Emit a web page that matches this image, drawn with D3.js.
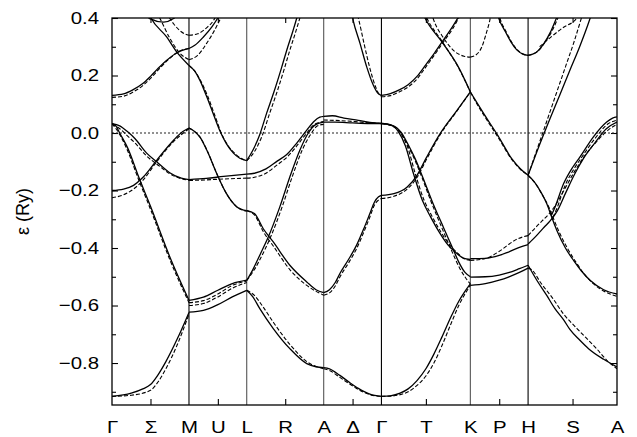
<!DOCTYPE html>
<html>
<head>
<meta charset="utf-8">
<script src="https://cdn.jsdelivr.net/npm/d3@7"></script>
<style>
  body { margin: 0; background: #fff; }
  svg text { font-family: "Liberation Sans", Arial, sans-serif; }
</style>
</head>
<body>
<div id="chart"></div>
<script>
// k-path: high symmetry points and segment lengths (in units of Γ-M)
var pathNames = ["Γ", "M", "L", "A", "Γ", "K", "H", "A"];
var segLengths = [1, 0.75, 1, 0.75, 1.155, 0.75, 1.155];
var midNames = ["Σ", "U", "R", "Δ", "T", "P", "S"];
// colour of the vertical line at each inner symmetry point
var symColors = ["#000", "#555", "#555", "#000", "#555", "#000"];

// energy axis (Ry)
var yDomain = [-0.946, 0.4];
var yMajor = [0.4, 0.2, 0, -0.2, -0.4, -0.6, -0.8];
var yMinor = [0.3, 0.1, -0.1, -0.3, -0.5, -0.7, -0.9];

// bands per segment, points are [fraction along segment, energy]
var gmSolid = [
  [[0,-0.916],[0.25,-0.905],[0.4,-0.89],[0.5,-0.875],[0.6,-0.84],[0.7,-0.795],[0.85,-0.715],[1,-0.624]],
  [[0,0.033],[0.05,0.025],[0.1,0.0],[0.2,-0.05],[0.35,-0.155],[0.5,-0.255],[0.75,-0.43],[1,-0.582]],
  [[0,0.033],[0.1,0.025],[0.2,0.005],[0.3,-0.02],[0.45,-0.07],[0.58,-0.1],[0.75,-0.138],[0.9,-0.157],[1,-0.162]],
  [[0,-0.2],[0.15,-0.195],[0.28,-0.182],[0.4,-0.155],[0.58,-0.095],[0.8,-0.025],[0.92,0.005],[1,0.017]],
  [[0,0.131],[0.15,0.136],[0.27,0.15],[0.4,0.172],[0.5,0.197],[0.6,0.225],[0.72,0.255],[0.85,0.28],[1,0.294]],
  [[0.47,0.42],[0.506,0.4],[0.71,0.334],[0.84,0.282],[1,0.235]],
  [[0.42,0.42],[0.49,0.398],[0.67,0.386],[0.8,0.398],[0.86,0.42]]
];
var gmDashed = [
  [[0,-0.916],[0.25,-0.912],[0.5,-0.895],[0.6,-0.865],[0.7,-0.82],[0.85,-0.735],[1,-0.63]],
  [[0,0.033],[0.1,-0.005],[0.2,-0.06],[0.35,-0.165],[0.5,-0.265],[0.75,-0.44],[1,-0.59]],
  [[0,0.03],[0.1,0.015],[0.2,-0.01],[0.3,-0.035],[0.45,-0.08],[0.6,-0.112],[0.75,-0.142],[1,-0.165]],
  [[0,-0.225],[0.15,-0.215],[0.28,-0.195],[0.4,-0.165],[0.58,-0.1],[0.8,-0.03],[1,0.015]],
  [[0,0.124],[0.15,0.128],[0.27,0.142],[0.4,0.165],[0.5,0.19],[0.62,0.225],[0.75,0.26],[0.88,0.285],[1,0.294]],
  [[0.58,0.42],[0.62,0.4],[0.75,0.33],[0.88,0.278],[1,0.255]],
  [[0.7,0.42],[0.8,0.38],[0.9,0.352],[1,0.34]]
];

var mlSolid = [
  [[0,0.235],[0.1,0.215],[0.19,0.183],[0.31,0.125],[0.42,0.067],[0.54,0.005],[0.65,-0.038],[0.77,-0.07],[0.88,-0.088],[1,-0.096]],
  [[0,0.294],[0.1,0.305],[0.25,0.334],[0.4,0.37],[0.5,0.4],[0.56,0.42]],
  [[0,0.017],[0.08,0.008],[0.19,-0.014],[0.31,-0.06],[0.48,-0.141],[0.65,-0.211],[0.83,-0.257],[1,-0.27]],
  [[0,-0.162],[0.3,-0.158],[0.6,-0.151],[1,-0.143]],
  [[0,-0.582],[0.25,-0.571],[0.5,-0.547],[0.75,-0.524],[1,-0.512]],
  [[0,-0.623],[0.25,-0.617],[0.5,-0.597],[0.75,-0.57],[1,-0.547]]
];
var mlDashed = [
  [[0,0.235],[0.12,0.21],[0.22,0.175],[0.33,0.125],[0.45,0.06],[0.57,-0.005],[0.68,-0.045],[0.8,-0.072],[0.9,-0.088],[1,-0.096]],
  [[0,0.255],[0.15,0.27],[0.3,0.31],[0.45,0.36],[0.55,0.4],[0.6,0.42]],
  [[0,0.34],[0.15,0.345],[0.3,0.365],[0.42,0.39],[0.5,0.42]],
  [[0,0.017],[0.1,0.005],[0.21,-0.02],[0.33,-0.068],[0.5,-0.15],[0.67,-0.218],[0.85,-0.26],[1,-0.272]],
  [[0,-0.165],[0.3,-0.163],[0.6,-0.16],[1,-0.157]],
  [[0,-0.59],[0.25,-0.583],[0.5,-0.56],[0.75,-0.53],[1,-0.515]],
  [[0,-0.6],[0.25,-0.593],[0.5,-0.57],[0.75,-0.54],[1,-0.52]]
];

var laSolid = [
  [[0,-0.096],[0.08,-0.06],[0.17,-0.005],[0.26,0.07],[0.35,0.14],[0.45,0.225],[0.52,0.288],[0.6,0.355],[0.65,0.4],[0.68,0.43]],
  [[0,-0.143],[0.1,-0.14],[0.25,-0.125],[0.4,-0.097],[0.52,-0.075],[0.65,-0.035],[0.78,0.01],[0.88,0.042],[0.95,0.055],[1,0.058]],
  [[0,-0.513],[0.08,-0.475],[0.17,-0.425],[0.28,-0.362],[0.43,-0.257],[0.56,-0.153],[0.69,-0.06],[0.8,0.0],[0.9,0.03],[1,0.038]],
  [[0,-0.27],[0.1,-0.28],[0.215,-0.333],[0.345,-0.379],[0.56,-0.46],[0.78,-0.518],[0.9,-0.545],[1,-0.555]],
  [[0,-0.547],[0.08,-0.57],[0.17,-0.611],[0.345,-0.68],[0.56,-0.75],[0.78,-0.802],[0.9,-0.813],[1,-0.816]]
];
var laDashed = [
  [[0,-0.096],[0.1,-0.065],[0.2,-0.01],[0.3,0.07],[0.39,0.14],[0.49,0.225],[0.56,0.288],[0.64,0.355],[0.69,0.4],[0.72,0.43]],
  [[0,-0.157],[0.1,-0.154],[0.25,-0.14],[0.4,-0.11],[0.52,-0.085],[0.65,-0.045],[0.78,0.0],[0.88,0.03],[1,0.04]],
  [[0,-0.513],[0.1,-0.475],[0.2,-0.425],[0.31,-0.362],[0.46,-0.257],[0.59,-0.153],[0.72,-0.06],[0.83,-0.005],[0.92,0.025],[1,0.03]],
  [[0,-0.27],[0.1,-0.285],[0.22,-0.345],[0.35,-0.395],[0.56,-0.475],[0.78,-0.53],[1,-0.564]],
  [[0,-0.547],[0.1,-0.565],[0.2,-0.6],[0.35,-0.66],[0.56,-0.735],[0.78,-0.795],[1,-0.82]]
];

var agSolid = [
  [[0,0.058],[0.15,0.06],[0.35,0.052],[0.6,0.044],[0.8,0.037],[1,0.033]],
  [[0,0.038],[0.2,0.038],[0.5,0.035],[0.8,0.033],[1,0.033]],
  [[0,-0.555],[0.1,-0.545],[0.2,-0.52],[0.29,-0.485],[0.43,-0.44],[0.57,-0.39],[0.7,-0.33],[0.8,-0.28],[0.88,-0.24],[0.95,-0.222],[1,-0.217]],
  [[0,-0.816],[0.1,-0.82],[0.28,-0.843],[0.45,-0.868],[0.6,-0.888],[0.8,-0.908],[1,-0.916]],
  [[0.47,0.43],[0.51,0.392],[0.63,0.311],[0.745,0.23],[0.86,0.166],[0.94,0.138],[1,0.131]]
];
var agDashed = [
  [[0,0.045],[0.3,0.043],[0.7,0.037],[1,0.033]],
  [[0,-0.564],[0.1,-0.556],[0.2,-0.532],[0.29,-0.497],[0.43,-0.452],[0.57,-0.402],[0.7,-0.342],[0.8,-0.292],[0.88,-0.25],[1,-0.228]],
  [[0,-0.82],[0.1,-0.826],[0.28,-0.85],[0.45,-0.873],[0.6,-0.892],[0.8,-0.91],[1,-0.916]],
  [[0.56,0.43],[0.6,0.4],[0.7,0.31],[0.8,0.225],[0.9,0.16],[0.96,0.135],[1,0.128]]
];

var gkSolid = [
  [[0,0.131],[0.1,0.137],[0.2,0.15],[0.3,0.168],[0.4,0.197],[0.5,0.238],[0.6,0.28],[0.7,0.325],[0.8,0.37],[0.86,0.4],[0.9,0.42]],
  [[0.46,0.42],[0.49,0.4],[0.68,0.317],[0.865,0.23],[1,0.143]],
  [[0,0.033],[0.1,0.028],[0.19,0.005],[0.27,-0.045],[0.36,-0.141],[0.46,-0.234],[0.55,-0.29],[0.65,-0.345],[0.75,-0.39],[0.83,-0.414],[0.92,-0.435],[1,-0.44]],
  [[0,0.033],[0.12,0.027],[0.22,0.003],[0.3,-0.04],[0.38,-0.09],[0.46,-0.15],[0.58,-0.245],[0.7,-0.33],[0.8,-0.4],[0.87,-0.449],[0.94,-0.485],[1,-0.5]],
  [[0,-0.217],[0.14,-0.211],[0.29,-0.188],[0.4,-0.147],[0.51,-0.083],[0.66,-0.002],[0.85,0.079],[1,0.143]],
  [[0,-0.916],[0.1,-0.914],[0.21,-0.905],[0.3,-0.89],[0.4,-0.861],[0.5,-0.82],[0.59,-0.769],[0.68,-0.71],[0.78,-0.641],[0.87,-0.585],[0.93,-0.555],[1,-0.525]]
];
var gkDashed = [
  [[0,0.126],[0.1,0.13],[0.2,0.143],[0.3,0.16],[0.4,0.188],[0.5,0.23],[0.6,0.273],[0.7,0.318],[0.8,0.362],[0.87,0.4],[0.9,0.415]],
  [[0.48,0.42],[0.51,0.4],[0.69,0.315],[0.87,0.225],[1,0.143]],
  [[0.56,0.42],[0.58,0.4],[0.7,0.33],[0.83,0.282],[0.93,0.267],[1,0.264]],
  [[0,0.033],[0.11,0.026],[0.21,0.003],[0.29,-0.045],[0.38,-0.141],[0.48,-0.234],[0.57,-0.29],[0.67,-0.345],[0.77,-0.39],[0.85,-0.416],[0.93,-0.437],[1,-0.443]],
  [[0,0.033],[0.12,0.026],[0.21,0.003],[0.29,-0.04],[0.37,-0.09],[0.45,-0.15],[0.56,-0.24],[0.68,-0.33],[0.79,-0.41],[0.88,-0.47],[0.95,-0.505],[1,-0.525]],
  [[0,-0.228],[0.14,-0.22],[0.29,-0.195],[0.4,-0.155],[0.51,-0.09],[0.66,-0.006],[0.85,0.077],[1,0.143]],
  [[0,-0.916],[0.1,-0.915],[0.21,-0.91],[0.3,-0.9],[0.4,-0.878],[0.5,-0.845],[0.59,-0.8],[0.68,-0.74],[0.78,-0.665],[0.87,-0.6],[0.93,-0.565],[1,-0.53]]
];

var khSolid = [
  [[0,0.143],[0.1,0.11],[0.24,0.065],[0.48,-0.01],[0.72,-0.09],[0.87,-0.125],[1,-0.147]],
  [[0.46,0.42],[0.49,0.4],[0.6,0.355],[0.7,0.318],[0.8,0.29],[0.9,0.275],[1,0.27]],
  [[0,-0.437],[0.26,-0.436],[0.5,-0.426],[0.66,-0.414],[0.85,-0.398],[1,-0.388]],
  [[0,-0.501],[0.26,-0.5],[0.5,-0.494],[0.66,-0.486],[0.85,-0.472],[1,-0.46]],
  [[0,-0.53],[0.26,-0.524],[0.5,-0.512],[0.66,-0.501],[0.85,-0.485],[1,-0.47]]
];
var khDashed = [
  [[0,0.143],[0.1,0.106],[0.24,0.06],[0.48,-0.015],[0.72,-0.093],[0.87,-0.127],[1,-0.147]],
  [[0.48,0.42],[0.51,0.4],[0.62,0.352],[0.72,0.315],[0.82,0.288],[0.92,0.274],[1,0.27]],
  [[0,0.264],[0.1,0.272],[0.2,0.3],[0.28,0.35],[0.34,0.395],[0.37,0.43]],
  [[0,-0.443],[0.25,-0.437],[0.52,-0.409],[0.68,-0.385],[0.81,-0.369],[1,-0.357]]
];

var haSolid = [
  [[0,0.27],[0.09,0.28],[0.175,0.31],[0.25,0.35],[0.32,0.4],[0.35,0.42]],
  [[0,-0.147],[0.13,-0.04],[0.246,0.05],[0.36,0.135],[0.47,0.218],[0.58,0.3],[0.69,0.392],[0.72,0.42]],
  [[0,-0.147],[0.07,-0.17],[0.134,-0.2],[0.225,-0.257],[0.26,-0.288],[0.325,-0.34],[0.42,-0.4],[0.513,-0.444],[0.6,-0.48],[0.7,-0.513],[0.85,-0.545],[1,-0.56]],
  [[0.26,-0.288],[0.3,-0.26],[0.4,-0.176],[0.5,-0.12],[0.584,-0.083],[0.733,-0.014],[0.884,0.038],[0.95,0.052],[1,0.056]],
  [[0,-0.386],[0.1,-0.355],[0.18,-0.328],[0.25,-0.305],[0.33,-0.27],[0.42,-0.21],[0.52,-0.145],[0.62,-0.09],[0.75,-0.035],[0.88,0.015],[1,0.038]],
  [[0,-0.46],[0.1,-0.513],[0.21,-0.565],[0.3,-0.61],[0.4,-0.65],[0.47,-0.683],[0.58,-0.72],[0.68,-0.75],[0.85,-0.787],[1,-0.814]]
];
var haDashed = [
  [[0,0.27],[0.1,0.282],[0.19,0.315],[0.27,0.355],[0.335,0.4],[0.36,0.42]],
  [[0.13,0.3],[0.25,0.332],[0.4,0.368],[0.52,0.39],[0.6,0.42]],
  [[0,-0.147],[0.12,-0.04],[0.22,0.05],[0.32,0.14],[0.42,0.23],[0.52,0.32],[0.6,0.4],[0.63,0.43]],
  [[0,-0.147],[0.08,-0.175],[0.15,-0.21],[0.24,-0.262],[0.28,-0.293],[0.35,-0.345],[0.45,-0.405],[0.54,-0.45],[0.63,-0.49],[0.73,-0.523],[0.87,-0.553],[1,-0.568]],
  [[0.28,-0.293],[0.32,-0.265],[0.42,-0.18],[0.52,-0.123],[0.6,-0.086],[0.75,-0.02],[0.9,0.032],[1,0.045]],
  [[0,-0.357],[0.08,-0.33],[0.16,-0.305],[0.24,-0.28],[0.32,-0.245],[0.42,-0.19],[0.53,-0.13],[0.64,-0.078],[0.77,-0.03],[0.9,0.01],[1,0.03]],
  [[0,-0.47],[0.04,-0.475],[0.14,-0.52],[0.28,-0.576],[0.4,-0.63],[0.55,-0.68],[0.77,-0.75],[0.9,-0.795],[1,-0.82]]
];

var segSolid = [gmSolid, mlSolid, laSolid, agSolid, gkSolid, khSolid, haSolid];
var segDashed = [gmDashed, mlDashed, laDashed, agDashed, gkDashed, khDashed, haDashed];

// SVG area
var svgWidth = 637;
var svgHeight = 437;
var margin = { top: 18, right: 20, bottom: 32, left: 112 };
var chartWidth = svgWidth - margin.left - margin.right;
var chartHeight = svgHeight - margin.top - margin.bottom;

var svg = d3.select("#chart")
  .append("svg")
  .attr("width", svgWidth)
  .attr("height", svgHeight);

var chartGroup = svg.append("g")
  .attr("transform", `translate(${margin.left}, ${margin.top})`);

// k positions of the symmetry points and segment midpoints
var kAt = [0];
segLengths.forEach(function(l, i) { kAt.push(kAt[i] + l); });
var kMid = segLengths.map(function(l, i) { return kAt[i] + l / 2; });

var xScale = d3.scaleLinear().domain([0, kAt[kAt.length - 1]]).range([0, chartWidth]);
var yScale = d3.scaleLinear().domain(yDomain).range([chartHeight, 0]);

var fmt = d3.format(".1f");
var labelStretch = "scale(1.2,1)";

function cleanAxis(sel) {
  sel.select(".domain").remove();
  sel.attr("font-size", 17).attr("font-family", "'Liberation Sans', Arial, sans-serif");
  sel.selectAll("line").attr("stroke-width", 1.1);
}

// left axis
chartGroup.append("g")
  .call(d3.axisLeft(yScale).tickValues(yMajor).tickSize(-6).tickPadding(10.8).tickFormat(fmt))
  .call(cleanAxis)
  .selectAll("text").attr("transform", labelStretch);
chartGroup.append("g")
  .call(d3.axisLeft(yScale).tickValues(yMinor).tickSize(-4).tickFormat(""))
  .call(cleanAxis);

// right axis
chartGroup.append("g")
  .attr("transform", `translate(${chartWidth}, 0)`)
  .call(d3.axisRight(yScale).tickValues(yMajor).tickSize(-6).tickFormat(""))
  .call(cleanAxis);
chartGroup.append("g")
  .attr("transform", `translate(${chartWidth}, 0)`)
  .call(d3.axisRight(yScale).tickValues(yMinor).tickSize(-4).tickFormat(""))
  .call(cleanAxis);

// bottom / top ticks at segment midpoints
chartGroup.append("g")
  .attr("transform", `translate(0, ${chartHeight})`)
  .call(d3.axisBottom(xScale).tickValues(kMid).tickSize(-6).tickFormat(""))
  .call(cleanAxis);
chartGroup.append("g")
  .call(d3.axisTop(xScale).tickValues(kMid).tickSize(-5).tickFormat(""))
  .call(cleanAxis);

// k-point labels
var allK = [];
var allNames = [];
pathNames.forEach(function(n, i) {
  allK.push(kAt[i]); allNames.push(n);
  if (i < midNames.length) { allK.push(kMid[i]); allNames.push(midNames[i]); }
});
chartGroup.append("g")
  .attr("transform", `translate(0, ${chartHeight})`)
  .call(d3.axisBottom(xScale).tickValues(allK).tickSize(0).tickPadding(16)
    .tickFormat(function(d, i) { return allNames[i]; }))
  .call(cleanAxis)
  .selectAll("text").attr("transform", labelStretch);

// vertical lines at symmetry points
chartGroup.selectAll("line.sym")
  .data(kAt.slice(1, kAt.length - 1))
  .enter()
  .append("line")
  .attr("class", "sym")
  .attr("x1", d => xScale(d))
  .attr("x2", d => xScale(d))
  .attr("y1", 0)
  .attr("y2", chartHeight)
  .attr("stroke", (d, i) => symColors[i])
  .attr("stroke-width", 1.1);

// Fermi level
chartGroup.append("line")
  .attr("x1", 0)
  .attr("x2", chartWidth)
  .attr("y1", yScale(0))
  .attr("y2", yScale(0))
  .attr("stroke", "#222")
  .attr("stroke-width", 1.2)
  .attr("stroke-dasharray", "2,2");

// bands
svg.append("defs").append("clipPath").attr("id", "plotClip")
  .append("rect").attr("width", chartWidth).attr("height", chartHeight);

var bandGroup = chartGroup.append("g").attr("clip-path", "url(#plotClip)");

var bandLine = d3.line()
  .x(d => xScale(d[0]))
  .y(d => yScale(d[1]))
  .curve(d3.curveMonotoneX);

function toK(band, i) {
  return band.map(p => [kAt[i] + p[0] * segLengths[i], p[1]]);
}

segDashed.forEach(function(bands, i) {
  bandGroup.selectAll(null)
    .data(bands)
    .enter()
    .append("path")
    .attr("d", b => bandLine(toK(b, i)))
    .attr("fill", "none")
    .attr("stroke", "#000")
    .attr("stroke-width", 1.1)
    .attr("stroke-dasharray", "4,2");
});

segSolid.forEach(function(bands, i) {
  bandGroup.selectAll(null)
    .data(bands)
    .enter()
    .append("path")
    .attr("d", b => bandLine(toK(b, i)))
    .attr("fill", "none")
    .attr("stroke", "#000")
    .attr("stroke-width", 1.3);
});

// frame
chartGroup.append("rect")
  .attr("width", chartWidth)
  .attr("height", chartHeight)
  .attr("fill", "none")
  .attr("stroke", "#000")
  .attr("stroke-width", 1.3);

// axis title
svg.append("text")
  .attr("transform", `translate(29, ${margin.top + chartHeight / 2}) rotate(-90)`)
  .attr("text-anchor", "middle")
  .attr("font-size", 18)
  .text("ε (Ry)");
</script>
</body>
</html>
